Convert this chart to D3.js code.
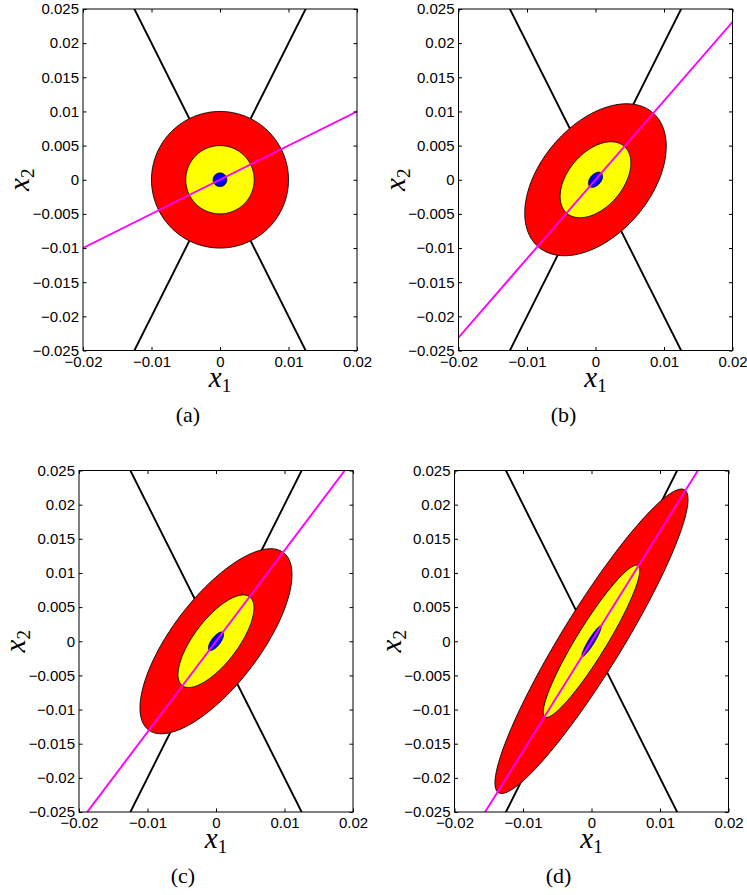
<!DOCTYPE html>
<html>
<head>
<meta charset="utf-8">
<script src="https://cdn.jsdelivr.net/npm/d3@7"></script>
<style>
  body { margin: 0; background: #fff; }
  svg { display: block; }
</style>
</head>
<body>
<svg width="747" height="895"></svg>
<script>
// tick values and labels (same on every panel)
var xTicks = [-0.02, -0.01, 0, 0.01, 0.02];
var xTickLabels = ["\u22120.02", "\u22120.01", "0", "0.01", "0.02"];
var yTicks = [-0.025, -0.02, -0.015, -0.01, -0.005, 0, 0.005, 0.01, 0.015, 0.02, 0.025];
var yTickLabels = ["\u22120.025", "\u22120.02", "\u22120.015", "\u22120.01", "\u22120.005", "0",
                   "0.005", "0.01", "0.015", "0.02", "0.025"];

// one entry per panel
var panelNames = ["(a)", "(b)", "(c)", "(d)"];
var outerSemiMajor = [0.0100, 0.0129, 0.0163, 0.0260];
var outerSemiMinor = [0.0100, 0.0080, 0.0064, 0.0044];
var outerAngleDeg = [0, 49.8, 52.8, 58.5];
var magentaSlope = [0.5, 1.155, 1.33, 1.61];

// nested levels, as a fraction of the outer ellipse
var levelScale = [1, 0.5, 0.1];
var levelColor = ["#ff0000", "#ffff00", "#0000ff"];

// black boundary lines x2 = slope * x1
var boundarySlope = [2, -2];

var svg = d3.select("svg");
var width = 274, height = 341.5;
var origins = [[83, 9], [458.5, 9], [79, 470.5], [454.5, 470.5]];
var captionX = [105, 105, 104, 104];

var x = d3.scaleLinear().domain([-0.02, 0.02]).range([0, width]);
var y = d3.scaleLinear().domain([-0.025, 0.025]).range([height, 0]);

var line = d3.line()
    .x(function(d) { return x(d[0]); })
    .y(function(d) { return y(d[1]); });

function ellipsePoints(a, b, deg) {
  var t = deg * Math.PI / 180, pts = [];
  for (var k = 0; k <= 240; k++) {
    var u = 2 * Math.PI * k / 240;
    var ex = a * Math.cos(u), ey = b * Math.sin(u);
    pts.push([ex * Math.cos(t) - ey * Math.sin(t), ex * Math.sin(t) + ey * Math.cos(t)]);
  }
  return pts;
}

function slopeLine(m) {
  return [[-0.05, -0.05 * m], [0.05, 0.05 * m]];
}

panelNames.forEach(function(name, p) {
  var g = svg.append("g")
      .attr("transform", "translate(" + origins[p][0] + "," + origins[p][1] + ")");

  g.append("clipPath").attr("id", "clip" + p)
    .append("rect").attr("width", width).attr("height", height);

  var plot = g.append("g").attr("clip-path", "url(#clip" + p + ")");

  plot.selectAll(".bound")
    .data(boundarySlope)
    .enter().append("path")
      .attr("class", "bound")
      .attr("d", function(m) { return line(slopeLine(m)); })
      .attr("fill", "none")
      .attr("stroke", "#000")
      .attr("stroke-width", 1.9);

  plot.selectAll(".level")
    .data(levelScale)
    .enter().append("path")
      .attr("class", "level")
      .attr("d", function(s) {
        return line(ellipsePoints(s * outerSemiMajor[p], s * outerSemiMinor[p], outerAngleDeg[p])) + "Z";
      })
      .attr("fill", function(s, i) { return levelColor[i]; })
      .attr("stroke", "#000")
      .attr("stroke-width", 0.9);

  plot.append("path")
    .attr("d", line(slopeLine(magentaSlope[p])))
    .attr("fill", "none")
    .attr("stroke", "#ff00ff")
    .attr("stroke-width", 1.9);

  // axes with inward ticks on all four sides
  var bottom = g.append("g")
      .attr("transform", "translate(0," + height + ")")
      .call(d3.axisBottom(x).tickValues(xTicks)
        .tickFormat(function(d, i) { return xTickLabels[i]; })
        .tickSize(-3.5).tickPadding(5.5));
  var left = g.append("g")
      .call(d3.axisLeft(y).tickValues(yTicks)
        .tickFormat(function(d, i) { return yTickLabels[i]; })
        .tickSize(-3.5).tickPadding(4));
  var top = g.append("g")
      .call(d3.axisTop(x).tickValues(xTicks).tickFormat("").tickSize(-3.5));
  var right = g.append("g")
      .attr("transform", "translate(" + width + ",0)")
      .call(d3.axisRight(y).tickValues(yTicks).tickFormat("").tickSize(-3.5));

  [bottom, left, top, right].forEach(function(ax) {
    ax.select(".domain").remove();
    ax.attr("font-family", "'Liberation Sans', Arial, sans-serif")
      .attr("font-size", 15);
    ax.selectAll("text").attr("fill", "#000");
    ax.selectAll("line").attr("stroke", "#000");
  });

  g.append("rect")
    .attr("width", width)
    .attr("height", height)
    .attr("fill", "none")
    .attr("stroke", "#000")
    .attr("stroke-width", 1);

  // axis labels
  var xl = g.append("text")
      .attr("x", width / 2)
      .attr("y", height + 36)
      .attr("text-anchor", "middle")
      .attr("font-family", "'Liberation Serif', serif")
      .attr("font-size", 29);
  xl.append("tspan").attr("font-style", "italic").text("x");
  xl.append("tspan").attr("font-size", 19).attr("dy", 5).text("1");

  var yl = g.append("text")
      .attr("transform", "translate(-54," + (height / 2) + ") rotate(-90)")
      .attr("text-anchor", "middle")
      .attr("font-family", "'Liberation Serif', serif")
      .attr("font-size", 29);
  yl.append("tspan").attr("font-style", "italic").text("x");
  yl.append("tspan").attr("font-size", 19).attr("dy", 5).text("2");

  g.append("text")
    .attr("x", captionX[p])
    .attr("y", height + 71)
    .attr("text-anchor", "middle")
    .attr("font-family", "'Liberation Serif', serif")
    .attr("font-size", 22)
    .text(name);
});
</script>
</body>
</html>
